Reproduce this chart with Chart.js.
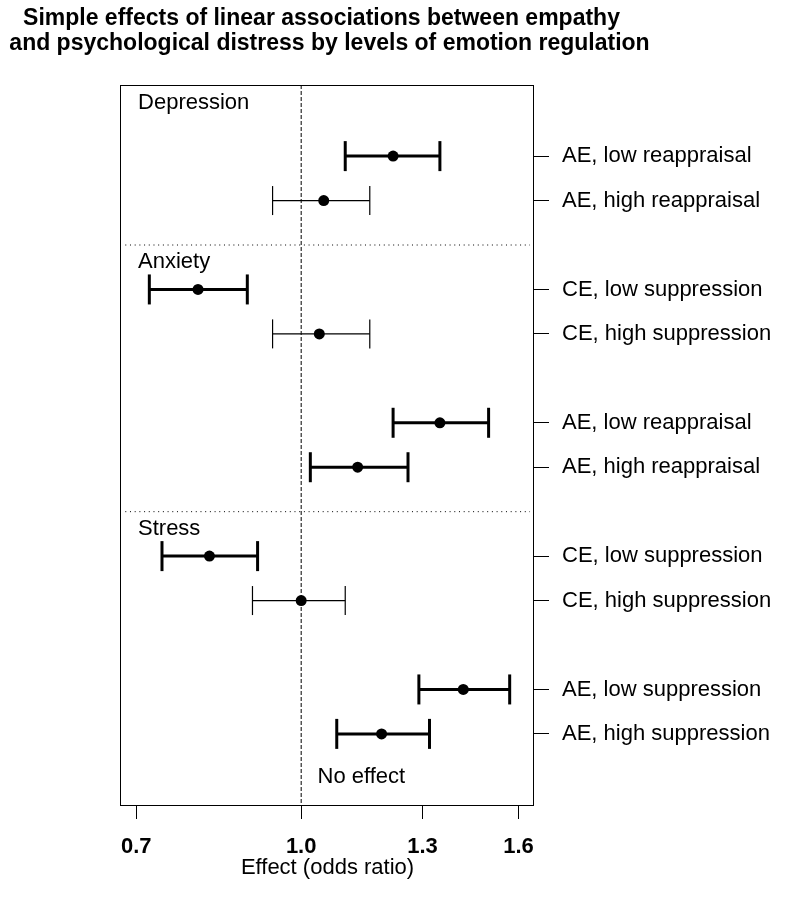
<!DOCTYPE html>
<html>
<head>
<meta charset="utf-8">
<script src="https://cdn.jsdelivr.net/npm/chart.js@4.4.1/dist/chart.umd.min.js"></script>
<style>
html,body{margin:0;padding:0;background:#fff}
canvas{display:block}
</style>
</head>
<body>
<canvas id="c" width="786" height="907"></canvas>
<script>
// ---- data ----
const titleLines = [
  'Simple effects of linear associations between empathy',
  'and psychological distress by levels of emotion regulation'
];
const rowLabels = [
  'AE, low reappraisal', 'AE, high reappraisal',
  'CE, low suppression', 'CE, high suppression',
  'AE, low reappraisal', 'AE, high reappraisal',
  'CE, low suppression', 'CE, high suppression',
  'AE, low suppression', 'AE, high suppression'
];
const rowSlots = [0, 1, 3, 4, 6, 7, 9, 10, 12, 13];
const estimates = [1.22, 1.05, 0.80, 1.04, 1.35, 1.13, 0.82, 1.00, 1.42, 1.19];
const lowerCI   = [1.10, 0.94, 0.72, 0.94, 1.22, 1.02, 0.74, 0.90, 1.29, 1.08];
const upperCI   = [1.35, 1.16, 0.89, 1.16, 1.50, 1.26, 0.91, 1.10, 1.57, 1.32];
const significant = [true, false, true, false, true, true, true, false, true, true];
const sectionNames = ['Depression', 'Anxiety', 'Stress'];
const separatorSlots = [2, 8];
const xTickValues = [0.7, 1.0, 1.3, 1.6];
const noEffectValue = 1.0;
const noEffectLabel = 'No effect';
const xAxisTitle = 'Effect (odds ratio)';

// ---- layout constants ----
const FONT = "'Liberation Sans', Arial, Helvetica, sans-serif";
const X_MIN = 0.6772, X_MAX = 1.6548;
const Y_MIN = -1.6, Y_MAX = 14.6;

const datasets = [];

// reference line (no effect)
datasets.push({
  data: [{x: noEffectValue, y: Y_MIN}, {x: noEffectValue, y: Y_MAX}],
  showLine: true, borderColor: '#000', borderWidth: 1, borderDash: [4, 2],
  pointRadius: 0, pointHoverRadius: 0, order: 3
});
// dotted separators
separatorSlots.forEach(s => {
  datasets.push({
    data: [{x: 0.6835, y: s}, {x: 1.6406, y: s}],
    showLine: true, borderColor: '#000', borderWidth: 1, borderDash: [1, 3.7],
    pointRadius: 0, pointHoverRadius: 0, order: 3
  });
});
// confidence intervals
rowSlots.forEach((slot, i) => {
  const w = significant[i] ? 3 : 1.2;
  const r = significant[i] ? 15 : 14.5;
  datasets.push({
    data: [{x: lowerCI[i], y: slot}, {x: upperCI[i], y: slot}],
    showLine: true, borderColor: '#000', borderWidth: w,
    pointStyle: 'line', pointRotation: 90, pointRadius: r, pointHoverRadius: r,
    pointBorderWidth: w, pointHoverBorderWidth: w,
    pointBorderColor: '#000', pointBackgroundColor: '#000', order: 1
  });
});
// point estimates
datasets.push({
  data: estimates.map((v, i) => ({x: v, y: rowSlots[i]})),
  showLine: false, pointStyle: 'circle', pointRadius: 5.5, pointHoverRadius: 5.5,
  pointBackgroundColor: '#000', pointBorderColor: '#000', pointBorderWidth: 0, order: 0
});

const framePlugin = {
  id: 'frame',
  afterDatasetsDraw(chart) {
    const {ctx, chartArea: a} = chart;
    ctx.save();
    ctx.strokeStyle = '#000';
    ctx.lineWidth = 1;
    ctx.strokeRect(Math.round(a.left) - 0.5, Math.round(a.top) + 0.5,
                   Math.round(a.right - a.left), Math.round(a.bottom - a.top));
    ctx.restore();
  }
};

const textPlugin = {
  id: 'texts',
  afterDraw(chart) {
    const {ctx, chartArea: a, scales} = chart;
    const xs = scales.x, ys = scales.y;
    ctx.save();
    ctx.fillStyle = '#000';
    ctx.textBaseline = 'alphabetic';
    // title
    ctx.font = 'bold 23px ' + FONT;
    ctx.textAlign = 'center';
    const cx = (a.left + a.right) / 2;
    ctx.fillText(titleLines[0], cx - 6, 25, 597);
    ctx.fillText(titleLines[1], cx + 2, 50, 645);
    // section labels
    ctx.font = '22px ' + FONT;
    ctx.textAlign = 'left';
    const sectionAnchorRows = [-1.07, 2.51, 8.52];
    sectionNames.forEach((name, i) => {
      ctx.fillText(name, xs.getPixelForValue(0.7026), ys.getPixelForValue(sectionAnchorRows[i]));
    });
    // no effect label
    ctx.fillText(noEffectLabel, xs.getPixelForValue(1.036), ys.getPixelForValue(14.1));
    ctx.restore();
  }
};

new Chart(document.getElementById('c'), {
  type: 'scatter',
  data: {datasets},
  options: {
    responsive: false,
    animation: false,
    devicePixelRatio: 1,
    layout: {padding: {top: 85, left: 121, right: 0, bottom: 0}},
    plugins: {legend: {display: false}, tooltip: {enabled: false}, title: {display: false}},
    events: [],
    scales: {
      x: {
        type: 'logarithmic',
        position: 'bottom',
        min: X_MIN, max: X_MAX,
        afterBuildTicks: s => { s.ticks = xTickValues.map(v => ({value: v})); },
        afterFit: s => { s.height = 102; },
        ticks: {
          callback: v => Number(v).toFixed(1),
          font: {family: FONT, size: 22, weight: 'bold'},
          color: '#000', padding: 15, maxRotation: 0, autoSkip: false
        },
        grid: {drawOnChartArea: false, drawTicks: true, tickLength: 14, color: '#000', lineWidth: 1},
        border: {display: false},
        title: {
          display: true, text: xAxisTitle, color: '#000',
          font: {family: FONT, size: 22},
          padding: {top: 0, bottom: 26}
        }
      },
      y: {
        type: 'linear',
        position: 'right',
        reverse: true,
        min: Y_MIN, max: Y_MAX,
        afterBuildTicks: s => { s.ticks = rowSlots.map(v => ({value: v})); },
        afterFit: s => { s.width = 252; },
        ticks: {
          callback: (v, i) => rowLabels[i],
          font: {family: FONT, size: 22},
          color: '#000', padding: 13, autoSkip: false
        },
        grid: {drawOnChartArea: false, drawTicks: true, tickLength: 15, color: '#000', lineWidth: 1},
        border: {display: false}
      }
    }
  },
  plugins: [framePlugin, textPlugin]
});
</script>
</body>
</html>
